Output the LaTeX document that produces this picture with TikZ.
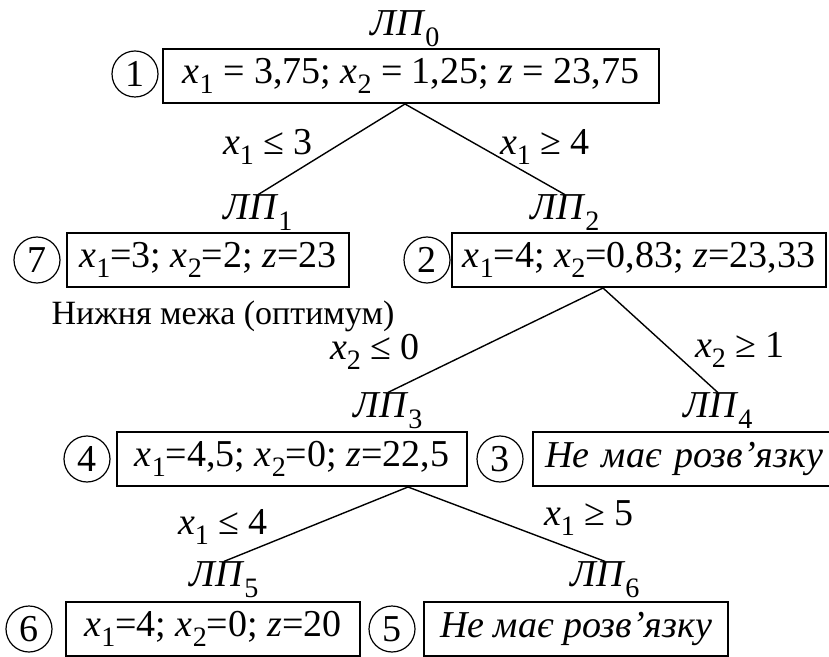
\documentclass[tikz,border=0pt]{standalone}
\usepackage{graphicx}
\usepackage{fontspec}
\setmainfont{Liberation Serif}
\newcommand{\sub}[1]{\raisebox{-0.28em}{\scalebox{0.74}{#1}}}
\newcommand{\xv}[1]{\textit{x}\sub{#1}}
\newcommand{\lpv}[1]{\textit{ЛП}\sub{#1}}

\begin{document}
\begin{tikzpicture}[x=0.5pt, y=-0.5pt,
    every node/.style={font=\fontsize{19}{22}\selectfont},
    box/.style={rectangle, draw, line width=1pt, inner sep=0pt, minimum height=27pt},
    nobox/.style={box, font=\fontsize{19}{22}\selectfont\itshape},
    num/.style={circle, draw, line width=0.6pt, inner sep=0pt, minimum size=23pt},
    lplabel/.style={inner sep=0pt, anchor=south},
    cond/.style={inner sep=1pt},
    branch/.style={line width=0.7pt}
]
\useasboundingbox (0,0) rectangle (829,657);

\node[lplabel] (lp0) at (405,47) {\lpv{0}};
\node[num] (n1) at (135,74) {1};
\node[box, minimum width=248pt] (b1) at (411,76) {\xv{1} = 3,75; \xv{2} = 1,25; \textit{z} = 23,75};

\node[lplabel] (lp1) at (258,231) {\lpv{1}};
\node[lplabel] (lp2) at (565,231) {\lpv{2}};
\node[num] (n7) at (37,260) {7};
\node[box, minimum width=141pt] (b7) at (208,260) {\xv{1}=3; \xv{2}=2; \textit{z}=23};
\node[num] (n2) at (427,260) {2};
\node[box, minimum width=187pt] (b2) at (639,260) {\xv{1}=4; \xv{2}=0,83; \textit{z}=23,33};
\node (opt) at (223,316) {\fontsize{17}{20}\selectfont Нижня межа (оптимум)};

\node[lplabel] (lp3) at (388,429) {\lpv{3}};
\node[lplabel] (lp4) at (718,429) {\lpv{4}};
\node[num] (n4) at (87,459) {4};
\node[box, minimum width=175pt] (b4) at (292,459) {\xv{1}=4,5; \xv{2}=0; \textit{z}=22,5};
\node[num] (n3) at (500,459) {3};
\node[nobox, anchor=west, text width=150pt, align=left, inner xsep=6pt] (b3) at (532,459) {Не має розв’язку};

\node[lplabel] (lp5) at (224,598) {\lpv{5}};
\node[lplabel] (lp6) at (605,598) {\lpv{6}};
\node[num] (n6) at (29,629) {6};
\node[box, minimum width=147pt] (b6) at (213,629) {\xv{1}=4; \xv{2}=0; \textit{z}=20};
\node[num] (n5) at (392,629) {5};
\node[nobox, minimum width=152pt] (b5) at (576,629) {Не має розв’язку};

\coordinate (s1) at ([xshift=-3pt]b1.south);
\coordinate (s2) at ([xshift=-18pt]b2.south);
\coordinate (s4) at ([xshift=58pt]b4.south);

\draw[branch] (s1) -- (lp1.north);
\draw[branch] (s1) -- (lp2.north);
\draw[branch] (s2) -- (lp3.north);
\draw[branch] (s2) -- (lp4.north);
\draw[branch] (s4) -- (lp5.north);
\draw[branch] (s4) -- (lp6.north);

\node[cond] (c1) at (268,147) {\xv{1} ≤ 3};
\node[cond] (c2) at (545,147) {\xv{1} ≥ 4};
\node[cond] (c3) at (375,352) {\xv{2} ≤ 0};
\node[cond] (c4) at (740,350) {\xv{2} ≥ 1};
\node[cond] (c5) at (223,527) {\xv{1} ≤ 4};
\node[cond] (c6) at (589,518) {\xv{1} ≥ 5};
\end{tikzpicture}
\end{document}
